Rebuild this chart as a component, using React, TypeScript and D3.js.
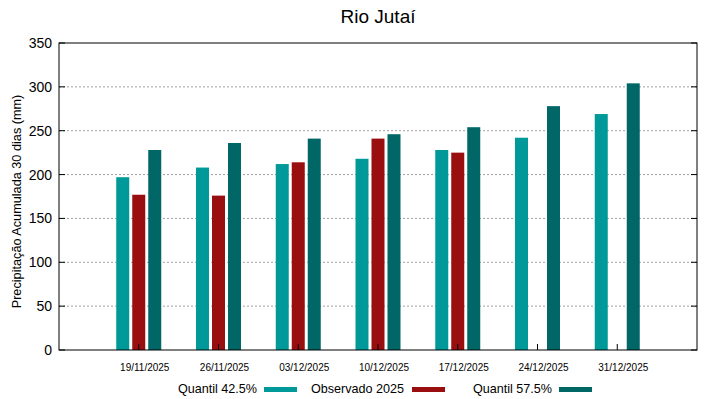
import React from 'react';
import * as d3 from 'd3';

const categories = ['19/11/2025', '26/11/2025', '03/12/2025', '10/12/2025', '17/12/2025', '24/12/2025', '31/12/2025'];
const quantil425 = [197, 208, 212, 218, 228, 242, 269];
const observado2025: (number | null)[] = [177, 176, 214, 241, 225, null, null];
const quantil575 = [228, 236, 241, 246, 254, 278, 304];
const yTicks = [0, 50, 100, 150, 200, 250, 300, 350];

const colTeal = '#009999';
const colRed = '#990f0f';
const colDark = '#006666';

const W = 719;
const H = 399;
const m = { left: 59, right: 697, top: 43, bottom: 350 };

export default function App() {
  const x = d3.scaleLinear().domain([-1, 7]).range([m.left, m.right]);
  const y = d3.scaleLinear().domain([0, 350]).range([m.bottom, m.top]);
  const barW = 13;
  const step = 16;

  const series = [
    { vals: quantil425 as (number | null)[], color: colTeal, off: -1 },
    { vals: observado2025, color: colRed, off: 0 },
    { vals: quantil575 as (number | null)[], color: colDark, off: 1 },
  ];

  const font = '"Liberation Sans", Arial, sans-serif';

  return (
    <svg width={W} height={H} style={{ position: 'absolute', left: 0, top: 0, background: '#fff' }} fontFamily={font}>
      <rect x={0} y={0} width={W} height={H} fill="#fff" />
      <text x={378} y={23} textAnchor="middle" fontSize={19}>Rio Jutaí</text>

      {yTicks.slice(1, -1).map(t => (
        <line key={'g' + t} x1={m.left} x2={m.right} y1={y(t)} y2={y(t)} stroke="#a0a0a0" strokeWidth={1} strokeDasharray="2,2" />
      ))}

      {series.map((s, si) => s.vals.map((v, i) => v == null ? null : (
        <rect key={si + '-' + i} x={x(i) + s.off * step - barW / 2} y={y(v)} width={barW} height={y(0) - y(v)} fill={s.color} />
      )))}

      <rect x={m.left} y={m.top} width={m.right - m.left} height={m.bottom - m.top} fill="none" stroke="#000" strokeWidth={1} />

      {yTicks.map(t => (
        <g key={'t' + t}>
          <line x1={m.left} x2={m.left + 6} y1={y(t)} y2={y(t)} stroke="#000" />
          <line x1={m.right} x2={m.right - 6} y1={y(t)} y2={y(t)} stroke="#000" />
          <text x={m.left - 7} y={y(t) + 5} textAnchor="end" fontSize={14}>{t}</text>
        </g>
      ))}

      {categories.map((c, i) => (
        <g key={c}>
          <line x1={x(i)} x2={x(i)} y1={m.bottom} y2={m.bottom - 6} stroke="#000" />
          <text x={x(i) + 6} y={m.bottom + 21} textAnchor="middle" fontSize={10}>{c}</text>
        </g>
      ))}

      <text transform={`translate(20.5,201.5) rotate(-90)`} textAnchor="middle" fontSize={12.7}>
        Precipitação Acumulada 30 dias (mm)
      </text>

      <g fontSize={12.6}>
        <text x={257} y={393} textAnchor="end">Quantil 42.5%</text>
        <rect x={264} y={387} width={33} height={5} fill={colTeal} />
        <text x={404} y={393} textAnchor="end">Observado 2025</text>
        <rect x={412} y={387} width={33} height={5} fill={colRed} />
        <text x={552} y={393} textAnchor="end">Quantil 57.5%</text>
        <rect x={559} y={387} width={33} height={5} fill={colDark} />
      </g>
    </svg>
  );
}
